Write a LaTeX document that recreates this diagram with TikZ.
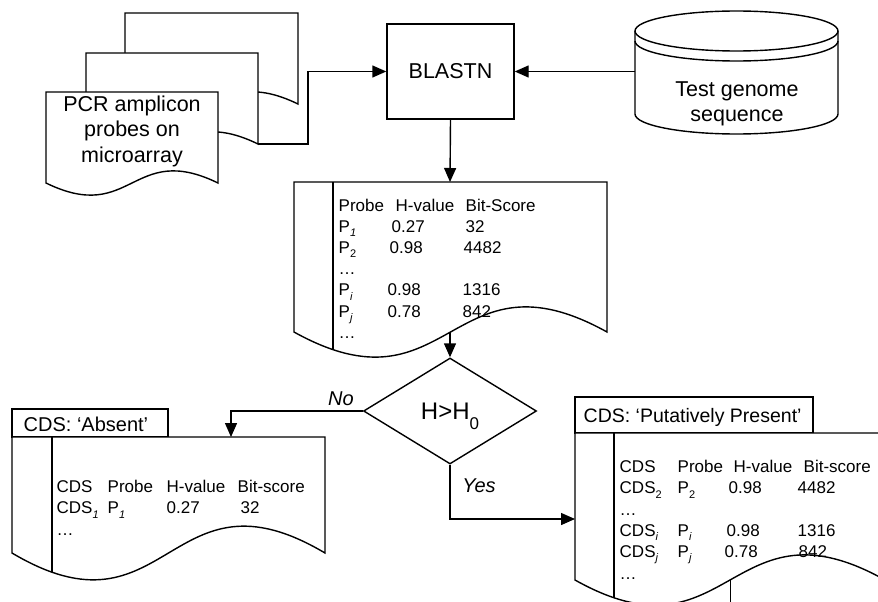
\documentclass[tikz,border=0pt]{standalone}
\usepackage{fontspec}
\setmainfont{Liberation Sans}
\usetikzlibrary{arrows.meta,shapes.geometric}
\newcommand{\mysub}[1]{\raisebox{-4.5pt}{\fontsize{11}{11}\selectfont #1}}
\newcommand{\docpath}[5]{(#1,#4) -- (#1,#2) -- (#3,#2) -- (#3,#4) .. controls ({(#1+#3)/2},{#4-#5}) and ({(#1+#3)/2},{#4+#5}) .. (#1,#4) -- cycle}
\begin{document}
\begin{tikzpicture}[x=1pt,y=-1pt,line width=1.4pt,line join=miter]
\tikzset{
  doc/.style={draw=black,fill=white,line width=1.4pt},
  arr/.style={-{Triangle[length=14pt,width=12pt]},line width=1.4pt},
  bigtxt/.style={inner sep=0pt,font=\fontsize{21.5}{25.5}\selectfont},
  tbl/.style={anchor=base west,inner sep=0pt,font=\fontsize{17}{21.2}\selectfont},
  ttl/.style={anchor=base west,inner sep=0pt,font=\fontsize{20}{24}\selectfont},
  lbl/.style={anchor=base,inner sep=0pt,font=\fontsize{20}{24}\selectfont\itshape}
}
\useasboundingbox (0,0) rectangle (878,602);
\clip (0,0) rectangle (878,602);
\fill[white] (0,0) rectangle (878,602);

% stacked documents
\draw[doc] \docpath{125}{13}{298}{104}{42};
\draw[doc] \docpath{86}{53}{258}{144}{42};
\draw[doc] \docpath{46}{92}{218}{183}{42};
\node[bigtxt,align=center] (pcr) at (132,131) {PCR amplicon\\probes on\\microarray};
\coordinate (stackR) at (258,144);

% BLASTN
\node[draw,fill=white,minimum width=127pt,minimum height=95pt,inner sep=0pt,
      font=\fontsize{21.5}{25.5}\selectfont] (blast) at (450.5,71.5) {BLASTN};

% cylinder
\draw[fill=white] (635,31) -- (635,114)
   arc[start angle=180,end angle=0,x radius=101.5,y radius=20] -- (838,31)
   arc[start angle=0,end angle=-180,x radius=101.5,y radius=20] -- cycle;
\draw (635,31) arc[start angle=180,end angle=0,x radius=101.5,y radius=20];
\draw (635,41) arc[start angle=180,end angle=0,x radius=101.5,y radius=20];
\node[bigtxt,align=center,font=\fontsize{21.5}{24.5}\selectfont] (tgs) at (737,104) {Test genome\\sequence};
\coordinate (cylW) at (635,71.5);

% BLAST result document
\draw[doc] \docpath{294}{182}{607}{332}{87};
\begin{scope}
  \clip \docpath{294}{182}{607}{332}{87};
  \draw (333,182) -- (333,400);
\end{scope}
\node[tbl] (restab) at (338,211) {\begin{tabular}[t]{@{}p{51pt}@{}p{74pt}@{}l@{}}
Probe & \hspace*{6pt}H-value & \hspace*{2pt}Bit-Score\\
P\mysub{\itshape 1} & \hspace*{2pt}0.27 & \hspace*{2pt}32\\
P\mysub{2} & 0.98 & 4482\\
… & & \\
P\mysub{\itshape i} & \hspace*{-2pt}0.98 & \hspace*{-1pt}1316\\
P\mysub{\itshape j} & \hspace*{-2pt}0.78 & \hspace*{-1pt}842\\
… & & \\
\end{tabular}};
\coordinate (resTop) at (450,182);
\coordinate (resBot) at (450,332);

% decision
\node[draw,fill=white,diamond,aspect=1.63,minimum width=173pt,minimum height=106pt,inner sep=0pt,
      text depth=0pt,font=\fontsize{24}{28}\selectfont] (dec) at (450,411)
      {H>H\raisebox{-10pt}{\fontsize{17}{17}\selectfont 0}};

% Absent document
\draw[doc] (12,409) rectangle (168,437);
\node[ttl] (abst) at (23,431.5) {CDS: ‘Absent’};
\draw[doc] \docpath{12}{437}{325}{553}{93};
\begin{scope}
  \clip \docpath{12}{437}{325}{553}{93};
  \draw (52,437) -- (52,620);
\end{scope}
\node[tbl] (abstab) at (56,492.6) {\begin{tabular}[t]{@{}p{51pt}@{}p{59pt}@{}p{71pt}@{}l@{}}
CDS & Probe & H-value & Bit-score\\
CDS\mysub{\itshape 1} & P\mysub{\itshape 1} & 0.27 & \hspace*{3pt}32\\
… & & & \\
\end{tabular}};
\coordinate (absTop) at (231,437);

% Putatively present document
\draw[doc] (575,397) rectangle (813,433);
\node[ttl,font=\fontsize{19.5}{24}\selectfont] (pret) at (583,422.5) {CDS: ‘Putatively Present’};
\draw[doc] \docpath{575}{433}{885}{580}{87};
\begin{scope}
  \clip \docpath{575}{433}{885}{580}{87};
  \draw (614,433) -- (614,640);
\end{scope}
\node[tbl] (pretab) at (619,472.6) {\begin{tabular}[t]{@{}p{58pt}@{}p{50pt}@{}p{70pt}@{}l@{}}
CDS & Probe & \hspace*{6pt}H-value & \hspace*{6pt}Bit-score\\
CDS\mysub{2} & P\mysub{2} & \hspace*{1pt}0.98 & 4482\\
… & & & \\
CDS\mysub{\itshape i} & P\mysub{\itshape i} & \hspace*{-1pt}0.98 & 1316\\
CDS\mysub{\itshape j} & P\mysub{\itshape j} & \hspace*{-3pt}0.78 & \hspace*{1pt}842\\
… & & & \\
\end{tabular}};
\coordinate (preL) at (575,519);
\coordinate (preBot) at (730,580);
\coordinate (preOut) at (730,610);
\draw[line width=1pt] (preBot) -- (preOut);

% connectors
\draw[arr] (stackR) -- ++(50,0) |- (blast.west);
\draw[arr] (cylW) -- (blast.east);
\draw[arr] (blast.south) -- (resTop);
\draw[arr] (resBot) -- (dec.north);
\draw[arr] (dec.west) -| (absTop);
\draw[arr] (dec.south) |- (preL);
\node[lbl] (no) at (341,405) {No};
\node[lbl] (yes) at (479,492) {Yes};
\end{tikzpicture}
\end{document}
